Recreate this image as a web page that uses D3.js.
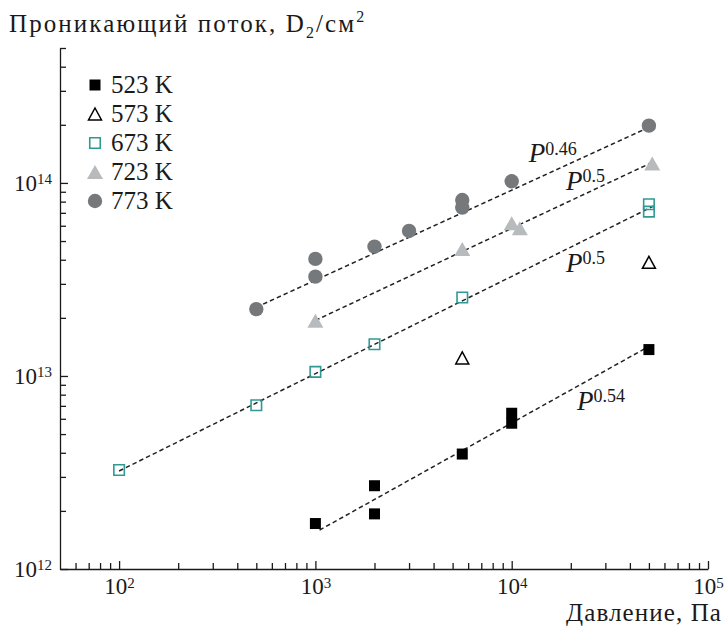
<!DOCTYPE html>
<html>
<head>
<meta charset="utf-8">
<script src="https://cdn.jsdelivr.net/npm/d3@7"></script>
<style>
  html, body { margin: 0; padding: 0; background: #fff; }
  svg { display: block; }
  text { font-family: "Liberation Serif", "Times New Roman", "DejaVu Serif", serif; fill: #1a1a1a; }
</style>
</head>
<body>
<svg id="chart" width="725" height="628"></svg>
<script>
// pressure (Pa) and permeation flux (D2/cm^2)
const x523 = [1000, 2000, 2000, 5600, 10000, 10000, 50000];
const y523 = [1.72e12, 2.70e12, 1.93e12, 3.94e12, 6.41e12, 5.69e12, 1.37e13];
const x573 = [5600, 50000];
const y573 = [1.24e13, 3.88e13];
const x673 = [100, 500, 1000, 2000, 5600, 50000, 50000];
const y673 = [3.26e12, 7.05e12, 1.05e13, 1.46e13, 2.55e13, 7.76e13, 7.1e13];
const x723 = [1000, 5600, 10000, 11000, 52000];
const y723 = [1.93e13, 4.55e13, 6.18e13, 5.82e13, 1.26e14];
const x773 = [500, 1000, 1000, 2000, 3000, 5600, 5600, 10000, 50000];
const y773 = [2.22e13, 4.04e13, 3.27e13, 4.68e13, 5.64e13, 8.16e13, 7.45e13, 1.02e14, 1.98e14];

// dashed power-law fits (end points) and their exponents
const fitX = [[1050, 48000], [100, 53000], [1000, 53000], [500, 50000]];
const fitY = [[1.59e12, 1.39e13], [3.22e12, 7.6e13], [1.94e13, 1.29e14], [2.27e13, 1.94e14]];
const fitExp = ["0.54", "0.5", "0.5", "0.46"];
const fitLabelX = [21500, 18900, 18900, 12200];
const fitLabelY = [6.67e12, 3.46e13, 9.2e13, 1.28e14];

const legendNames = ["523 K", "573 K", "673 K", "723 K", "773 K"];
const xMajor = [1e2, 1e3, 1e4, 1e5];
const yMajor = [1e12, 1e13, 1e14];

const svg = d3.select("#chart");
const x = d3.scaleLog().domain([50, 1e5]).range([60, 708]);
const y = d3.scaleLog().domain([1e12, 5e14]).range([569, 48]);

const minorTicks = (lo, hi) => {
  const out = [];
  for (let e = lo; e < hi; e += 1) {
    for (let m = 2; m <= 9; m += 1) out.push(m * Math.pow(10, e));
  }
  return out;
};
const xMinor = minorTicks(1, 5).filter((v) => v > 55 && v < 1e5);
const yMinor = minorTicks(12, 15).filter((v) => v <= 5e14);

const supLabel = (sel) => {
  sel.each(function (d) {
    const t = d3.select(this);
    t.text("10");
    t.append("tspan")
      .attr("dy", "-0.45em")
      .attr("font-size", 15)
      .text(String(Math.round(Math.log10(d))));
  });
};

// x axis
const gx = svg.append("g").attr("transform", "translate(0,569)");
gx.call(d3.axisBottom(x).tickValues(xMinor).tickSizeInner(-6).tickSizeOuter(0).tickFormat(""));
gx.append("g").call(
  d3.axisBottom(x).tickValues(xMajor).tickSizeInner(-8).tickSizeOuter(0).tickPadding(9)
);
gx.selectAll("g g .domain").remove();
gx.selectAll("text")
  .attr("font-size", 23)
  .filter((d) => xMajor.includes(d))
  .call(supLabel);
gx.selectAll("line, path").attr("stroke", "#1a1a1a").attr("stroke-width", 1.3);

// y axis
const gy = svg.append("g").attr("transform", "translate(60,0)");
gy.call(d3.axisLeft(y).tickValues(yMinor).tickSizeInner(-6).tickSizeOuter(0).tickFormat(""));
gy.append("g").call(
  d3.axisLeft(y).tickValues(yMajor).tickSizeInner(-8).tickSizeOuter(0).tickPadding(8)
);
gy.selectAll("g g .domain").remove();
gy.selectAll("text")
  .attr("font-size", 23)
  .filter((d) => yMajor.includes(d))
  .call(supLabel);
gy.selectAll("line, path").attr("stroke", "#1a1a1a").attr("stroke-width", 1.3);

// fit lines
const line = d3.line().x((d) => x(d[0])).y((d) => y(d[1]));
svg.append("g")
  .selectAll("path")
  .data(fitX.map((xs, i) => xs.map((v, j) => [v, fitY[i][j]])))
  .join("path")
  .attr("d", line)
  .attr("fill", "none")
  .attr("stroke", "#222")
  .attr("stroke-width", 1.5)
  .attr("stroke-dasharray", "4.5,3");

const labels = svg.append("g")
  .selectAll("text")
  .data(fitExp)
  .join("text")
  .attr("x", (d, i) => x(fitLabelX[i]))
  .attr("y", (d, i) => y(fitLabelY[i]))
  .attr("font-size", 27);
labels.append("tspan").attr("font-style", "italic").text("P");
labels.append("tspan").attr("dy", "-0.42em").attr("font-size", 18).text((d) => d);

// marker shapes (bounding box centred on the point)
const squarePath = (s) => `M${-s / 2},${-s / 2}h${s}v${s}h${-s}Z`;
const triPath = (w, h) => `M0,${-h / 2}L${w / 2},${h / 2}L${-w / 2},${h / 2}Z`;

const series = [
  { xs: x523, ys: y523, d: squarePath(11), fill: "#000", stroke: "none", sw: 0 },
  { xs: x573, ys: y573, d: triPath(13, 12), fill: "none", stroke: "#000", sw: 1.5 },
  { xs: x673, ys: y673, d: squarePath(10.5), fill: "none", stroke: "#2e9a93", sw: 1.6 },
  { xs: x723, ys: y723, d: triPath(16, 14), fill: "#b8bbbd", stroke: "none", sw: 0 },
  { xs: x773, ys: y773, d: null, fill: "#75797c", stroke: "none", sw: 0 },
];

series.forEach((s) => {
  const g = svg.append("g");
  const pts = s.xs.map((v, i) => [v, s.ys[i]]);
  if (s.d) {
    g.selectAll("path")
      .data(pts)
      .join("path")
      .attr("transform", (d) => `translate(${x(d[0])},${y(d[1])})`)
      .attr("d", s.d)
      .attr("fill", s.fill)
      .attr("stroke", s.stroke)
      .attr("stroke-width", s.sw);
  } else {
    g.selectAll("circle")
      .data(pts)
      .join("circle")
      .attr("cx", (d) => x(d[0]))
      .attr("cy", (d) => y(d[1]))
      .attr("r", 7.2)
      .attr("fill", s.fill);
  }
});

// legend
const legend = svg.append("g").attr("transform", "translate(95,85)");
legendNames.forEach((name, i) => {
  const s = series[i];
  const row = legend.append("g").attr("transform", `translate(0,${i * 29})`);
  if (s.d) {
    row.append("path")
      .attr("d", s.d)
      .attr("fill", s.fill)
      .attr("stroke", s.stroke)
      .attr("stroke-width", s.sw);
  } else {
    row.append("circle").attr("r", 7.2).attr("fill", s.fill);
  }
  row.append("text").attr("x", 16).attr("y", 8).attr("font-size", 25).text(name);
});

// axis titles
const title = svg.append("text")
  .attr("x", 9)
  .attr("y", 32)
  .attr("font-size", 25)
  .attr("letter-spacing", 2.1);
title.append("tspan").text("Проникающий поток, D");
title.append("tspan").attr("dy", 6).attr("font-size", 16).text("2");
title.append("tspan").attr("dy", -6).text("/см");
title.append("tspan").attr("dy", -10).attr("font-size", 16).text("2");

svg.append("text")
  .attr("x", 722)
  .attr("y", 621)
  .attr("text-anchor", "end")
  .attr("font-size", 25)
  .attr("letter-spacing", 1.1)
  .text("Давление, Па");
</script>
</body>
</html>
